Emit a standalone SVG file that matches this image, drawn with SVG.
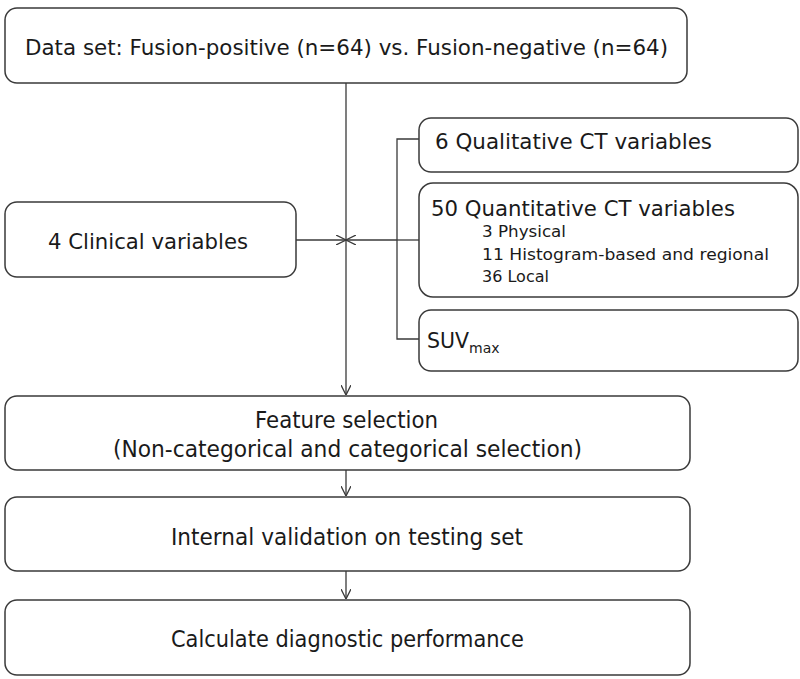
<svg xmlns="http://www.w3.org/2000/svg" width="800" height="679" viewBox="0 0 800 679">
<defs>
<style>
.box{fill:#fff;stroke:#3a3a3a;stroke-width:1.5}
.ln{fill:none;stroke:#3a3a3a;stroke-width:1.3}
text{font-family:"DejaVu Sans","Open Sans",sans-serif;fill:#1a1a1a}
.t{font-size:22px}
.m{font-size:20.5px}
.b{font-size:23px}
.s{font-size:15px}
</style>
<marker id="ah" viewBox="0 0 10 10" refX="10" refY="5" markerWidth="10" markerHeight="10" markerUnits="userSpaceOnUse" orient="auto">
<path d="M0,0 L10,5 L0,10" fill="none" stroke="#3a3a3a" stroke-width="1.3"/>
</marker>
</defs>
<g id="connectors">
<line class="ln" x1="346" y1="83" x2="346" y2="395" marker-end="url(#ah)"/>
<polyline class="ln" points="419,139 397,139 397,339 419,339"/>
<line class="ln" x1="419" y1="240" x2="397" y2="240"/>
<line class="ln" x1="397" y1="240" x2="346" y2="240" marker-end="url(#ah)"/>
<line class="ln" x1="296" y1="240" x2="346" y2="240" marker-end="url(#ah)"/>
<line class="ln" x1="346" y1="470" x2="346" y2="496" marker-end="url(#ah)"/>
<line class="ln" x1="346" y1="571" x2="346" y2="599" marker-end="url(#ah)"/>
</g>
<g id="dataset">
<rect class="box" x="5" y="8" width="682" height="75" rx="12"/>
<text class="t" x="25" y="55" textLength="643" lengthAdjust="spacingAndGlyphs">Data set: Fusion-positive (n=64) vs. Fusion-negative (n=64)</text>
</g>
<g id="clinical">
<rect class="box" x="5" y="202" width="291" height="75" rx="12"/>
<text class="t" x="48" y="249" textLength="200" lengthAdjust="spacingAndGlyphs">4 Clinical variables</text>
</g>
<g id="qualitative">
<rect class="box" x="419" y="118" width="379" height="54" rx="12"/>
<text class="m" x="435" y="149" textLength="277" lengthAdjust="spacingAndGlyphs">6 Qualitative CT variables</text>
</g>
<g id="quantitative">
<rect class="box" x="419" y="183" width="379" height="114" rx="14"/>
<text class="m" x="431" y="216" textLength="304" lengthAdjust="spacingAndGlyphs">50 Quantitative CT variables</text>
<text class="s" x="482" y="237" textLength="84" lengthAdjust="spacingAndGlyphs">3 Physical</text>
<text class="s" x="482" y="260" textLength="287" lengthAdjust="spacingAndGlyphs">11 Histogram-based and regional</text>
<text class="s" x="482" y="282" textLength="67" lengthAdjust="spacingAndGlyphs">36 Local</text>
</g>
<g id="suv">
<rect class="box" x="419" y="310" width="379" height="61" rx="12"/>
<text class="m" x="427" y="348">SUV<tspan font-size="14" dy="5">max</tspan></text>
</g>
<g id="feature">
<rect class="box" x="5" y="396" width="685" height="74" rx="12"/>
<text class="b" x="255" y="428" textLength="183" lengthAdjust="spacingAndGlyphs">Feature selection</text>
<text class="b" x="113" y="457" textLength="469" lengthAdjust="spacingAndGlyphs">(Non-categorical and categorical selection)</text>
</g>
<g id="validation">
<rect class="box" x="5" y="497" width="685" height="74" rx="12"/>
<text class="b" x="171" y="545" textLength="352" lengthAdjust="spacingAndGlyphs">Internal validation on testing set</text>
</g>
<g id="performance">
<rect class="box" x="5" y="600" width="685" height="75" rx="12"/>
<text class="b" x="171" y="647" textLength="353" lengthAdjust="spacingAndGlyphs">Calculate diagnostic performance</text>
</g>
</svg>
